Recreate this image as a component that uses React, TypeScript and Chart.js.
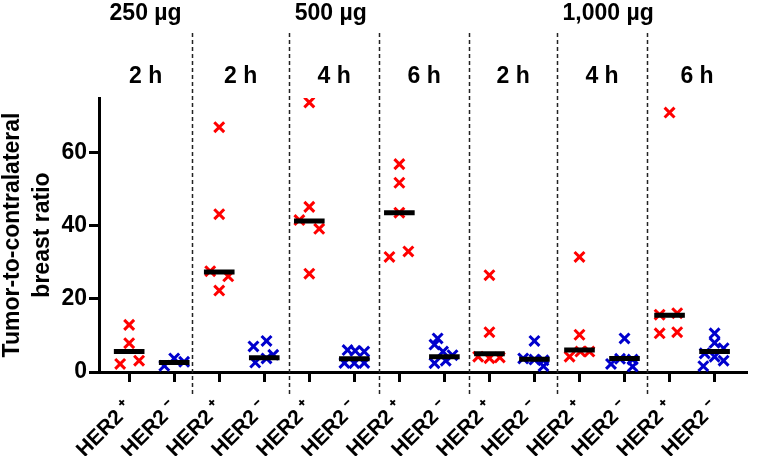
import { useEffect, useRef } from 'react';
import { Chart, registerables } from 'chart.js';

Chart.register(...registerables);

// ---- data ----
const categories = [
  'HER2 ⁺', 'HER2 ⁻', 'HER2 ⁺', 'HER2 ⁻', 'HER2 ⁺', 'HER2 ⁻', 'HER2 ⁺',
  'HER2 ⁻', 'HER2 ⁺', 'HER2 ⁻', 'HER2 ⁺', 'HER2 ⁻', 'HER2 ⁺', 'HER2 ⁻',
];
const doseLabels = ['250 µg', '500 µg', '1,000 µg'];
const doseRegionSpans = [[0, 0], [1, 3], [4, 6]];
const timeLabels = ['2 h', '2 h', '4 h', '6 h', '2 h', '4 h', '6 h'];
const separators = [1.4, 3.55, 5.55, 7.55, 9.5, 11.5];
const yTicks = [0, 20, 40, 60];

// values per group (index = category)
const groupValues: number[][] = [
  [12.9, 7.9, 2.2, 3.1],
  [1.7, 3.7, 2.8],
  [67.0, 43.2, 27.6, 26.2, 22.3],
  [7.0, 8.5, 4.7, 2.6, 3.7],
  [73.8, 45.2, 41.6, 39.2, 26.9],
  [6.0, 5.8, 5.6, 2.5, 2.4, 2.5],
  [56.9, 51.8, 43.6, 31.5, 33.0],
  [9.2, 7.5, 5.6, 4.6, 2.4, 3.1],
  [26.5, 10.9, 4.2, 3.8, 4.0],
  [8.5, 3.7, 3.4, 3.2, 1.6],
  [31.5, 10.2, 4.2, 5.6, 5.6],
  [9.2, 2.2, 3.6, 3.4, 1.5],
  [71.0, 15.7, 16.1, 10.6, 10.9],
  [10.6, 8.0, 6.5, 4.2, 3.1, 1.6, 5.1],
];
// horizontal scatter spread (category units) for each value
const groupSpread: number[][] = [
  [0, 0, -0.2, 0.22],
  [-0.22, 0, 0.22],
  [0, 0, -0.2, 0.2, 0],
  [-0.24, 0.05, 0.2, -0.2, 0.05],
  [0, 0, -0.22, 0.22, 0],
  [-0.15, 0.02, 0.22, -0.22, 0, 0.22],
  [0, 0, 0, -0.22, 0.2],
  [-0.15, -0.22, -0.03, 0.18, -0.22, 0.03],
  [0, 0, -0.25, 0, 0.23],
  [0, -0.25, 0, 0.2, 0.2],
  [0, 0, -0.22, 0.02, 0.22],
  [0, -0.3, -0.1, 0.18, 0.18],
  [0, -0.22, 0.17, -0.22, 0.17],
  [0, 0, 0.2, 0, 0.2, -0.25, -0.22],
];
const groupMedians = [5.6, 2.6, 27.4, 3.9, 41.3, 3.6, 43.6, 4.2, 5.0, 3.5, 6.0, 3.7, 15.5, 5.6];

const FONT = '"Liberation Sans", Arial, Helvetica, sans-serif';
const RED = '#FF0000';
const BLUE = '#0000CD';

export default function App() {
  const ref = useRef<HTMLCanvasElement | null>(null);

  useEffect(() => {
    if (!ref.current) return;

    const posPts: { x: number; y: number }[] = [];
    const negPts: { x: number; y: number }[] = [];
    groupValues.forEach((vals, i) => {
      vals.forEach((v, j) => {
        const p = { x: i + groupSpread[i][j], y: v };
        if (i % 2 === 0) posPts.push(p);
        else negPts.push(p);
      });
    });
    const medianPts: { x: number; y: number | null }[] = [];
    groupMedians.forEach((m, i) => {
      medianPts.push({ x: i - 0.34, y: m });
      medianPts.push({ x: i + 0.34, y: m });
      medianPts.push({ x: i + 0.34, y: null });
    });

    const annotations = {
      id: 'annotations',
      beforeDatasetsDraw(chart: any) {
        const { ctx, chartArea } = chart;
        const xs = chart.scales.x;
        ctx.save();
        ctx.strokeStyle = '#222';
        ctx.lineWidth = 1.5;
        ctx.setLineDash([4, 3]);
        separators.forEach((s) => {
          const px = Math.round(xs.getPixelForValue(s)) + 0.5;
          ctx.beginPath();
          ctx.moveTo(px, 33);
          ctx.lineTo(px, chartArea.bottom + 24);
          ctx.stroke();
        });
        ctx.restore();
      },
      afterDraw(chart: any) {
        const { ctx, chartArea } = chart;
        const xs = chart.scales.x;
        const bounds = [chartArea.left, ...separators.map((s) => xs.getPixelForValue(s)), chartArea.right];
        ctx.save();
        ctx.fillStyle = '#000';
        ctx.font = `bold 23px ${FONT}`;
        ctx.textAlign = 'center';
        ctx.textBaseline = 'alphabetic';
        timeLabels.forEach((t, i) => {
          ctx.fillText(t, (bounds[i] + bounds[i + 1]) / 2, 83);
        });
        doseLabels.forEach((d, i) => {
          const [a, b] = doseRegionSpans[i];
          ctx.fillText(d, (bounds[a] + bounds[b + 1]) / 2, 20);
        });
        ctx.restore();
      },
    };

    const chart = new Chart(ref.current, {
      type: 'scatter',
      data: {
        datasets: [
          {
            type: 'line',
            label: 'median',
            data: medianPts as any,
            borderColor: '#000',
            borderWidth: 5,
            pointRadius: 0,
            spanGaps: false,
            borderCapStyle: 'butt',
            order: 0,
          } as any,
          {
            label: 'HER2 +',
            data: posPts,
            pointStyle: 'crossRot',
            pointRadius: 7,
            borderWidth: 3,
            borderColor: RED,
            backgroundColor: RED,
            order: 1,
          },
          {
            label: 'HER2 -',
            data: negPts,
            pointStyle: 'crossRot',
            pointRadius: 7,
            borderWidth: 3,
            borderColor: BLUE,
            backgroundColor: BLUE,
            order: 1,
          },
        ],
      },
      options: {
        animation: false,
        responsive: false,
        devicePixelRatio: 1,
        layout: { padding: { top: 98, right: 2, left: 0, bottom: 0 } },
        plugins: { legend: { display: false }, tooltip: { enabled: false } },
        scales: {
          x: {
            type: 'linear',
            min: -0.67,
            max: 13.72,
            afterBuildTicks: (s: any) => {
              s.ticks = categories.map((_, i) => ({ value: i }));
            },
            afterFit: (s: any) => {
              s.height = 84;
              s.paddingLeft = 0;
              s.paddingRight = 0;
            },
            ticks: {
              autoSkip: false,
              minRotation: 45,
              maxRotation: 45,
              padding: 14,
              color: '#000',
              font: { family: FONT, size: 21, weight: 'bold' },
              callback: (v: any) => categories[Math.round(Number(v))] ?? '',
            },
            grid: {
              drawOnChartArea: false,
              drawTicks: true,
              tickLength: 10,
              tickWidth: 3,
              color: '#000',
            },
            border: { display: true, width: 3, color: '#000' },
          },
          y: {
            type: 'linear',
            min: 0,
            max: 75,
            afterBuildTicks: (s: any) => {
              s.ticks = yTicks.map((v) => ({ value: v }));
            },
            afterFit: (s: any) => {
              s.width = 99;
              s.paddingTop = 0;
              s.paddingBottom = 0;
            },
            ticks: {
              padding: 2,
              color: '#000',
              font: { family: FONT, size: 23, weight: 'bold' },
            },
            grid: {
              drawOnChartArea: false,
              drawTicks: true,
              tickLength: 10,
              tickWidth: 3,
              color: '#000',
            },
            border: { display: true, width: 3, color: '#000' },
            title: {
              display: true,
              text: ['Tumor-to-contralateral', 'breast ratio'],
              color: '#000',
              padding: { top: -2, bottom: 0 },
              font: { family: FONT, size: 23, weight: 'bold', lineHeight: 1.3 },
            },
          },
        },
      },
      plugins: [annotations],
    });

    return () => chart.destroy();
  }, []);

  return (
    <div style={{ position: 'absolute', left: 0, top: 0, width: 757, height: 456, background: '#fff' }}>
      <canvas ref={ref} width={757} height={456} style={{ display: 'block' }} />
    </div>
  );
}
